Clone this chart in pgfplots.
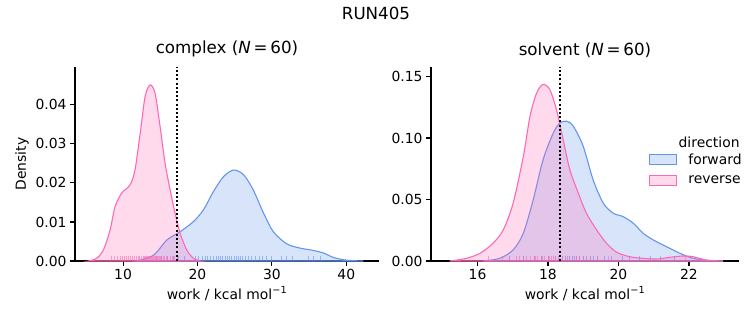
\documentclass[border=0pt]{standalone}
\usepackage{fontspec}
\setmainfont{DejaVu Sans}
\usepackage{pgfplots}
\pgfplotsset{compat=1.18}
\definecolor{fwd}{HTML}{6495ED}
\definecolor{rev}{HTML}{FF69B4}
\pgfplotsset{
 kdeax/.style={
  scale only axis, axis x line*=bottom, axis y line*=left,
  axis line style={line width=1.1pt,-}, tick align=outside,
  major tick length=4.9pt, tick style={black, line width=1.1pt},
  every tick label/.append style={font=\fontsize{13.9}{16}\selectfont},
  label style={font=\fontsize{13.9}{16}\selectfont},
  title style={font=\fontsize{16.7}{20}\selectfont},
  /pgf/number format/assume math mode=true,
  yticklabel style={/pgf/number format/fixed, /pgf/number format/fixed zerofill, /pgf/number format/precision=2},
  scaled y ticks=false, ymin=0, clip=false,
  xlabel={work / kcal mol\textsuperscript{−1}},
 },
 fwdfill/.style={draw=fwd, line width=1.1pt, fill=fwd, fill opacity=0.25, draw opacity=1, smooth, tension=0.5},
 revfill/.style={draw=rev, line width=1.1pt, fill=rev, fill opacity=0.25, draw opacity=1, smooth, tension=0.5},
 rug/.style={ycomb, no marks, line width=0.8pt, opacity=0.6, forget plot},
 dotline/.style={black, line width=2pt, dash pattern=on 2pt off 2.2pt, forget plot},
}
\begin{document}
\begin{tikzpicture}
\path[use as bounding box] (0,0) rectangle (753pt,325pt);
\node[font=\fontsize{16.7}{20}\selectfont] at (376pt,312pt) {RUN405};
% complex
\begin{axis}[kdeax, at={(75pt,64pt)}, anchor=south west, width=304pt, height=194pt,
  xmin=3.54, xmax=44.4, ymax=0.0497,
  xtick={10,20,30,40}, ytick={0,0.01,0.02,0.03,0.04},
  ylabel={Density},
  title={complex (\textit{N}\,=\,60)}]
\addplot[fwdfill, forget plot] coordinates {
(11.8,0) (14.1,0.0015) (15.9,0.0054) (17.67,0.0075) (19.46,0.0101) (20.8,0.0131)
(22.15,0.0178) (23.5,0.0216) (24.85,0.0233) (26.2,0.0221) (27.5,0.0182) (28.9,0.0122)
(30.2,0.0075) (32.0,0.0044) (33.8,0.0033) (35.6,0.0027) (37,0.002) (38.3,0.0009)
(40.1,0.0002) (42.3,0)} \closedcycle;
\addplot[revfill, forget plot] coordinates {
(5.33,0) (6.46,0.0007) (7.35,0.0028) (8.25,0.0079) (8.92,0.0139) (9.82,0.0174)
(10.94,0.0195) (11.6,0.0233) (12.3,0.0327) (12.96,0.0421) (13.63,0.0451) (14.3,0.043)
(14.98,0.0344) (15.65,0.025) (16.33,0.0182) (17.0,0.0122) (17.67,0.0071) (18.57,0.0028)
(19.46,0.0007) (20.4,0)} \closedcycle;
\addplot[rug, fwd] table[x=x, y expr=0.00124] {
x
14.5
15.2
16.0
16.8
17.5
18.3
19.7
20.1
20.6
21.0
21.4
21.8
22.1
22.5
22.8
23.1
23.4
23.7
24.0
24.3
24.6
24.9
25.2
25.5
25.8
26.1
26.5
26.9
27.3
27.8
28.3
28.7
29.3
30.0
31.3
32.0
32.7
34.9
35.6
36.5
};
\addplot[rug, rev] table[x=x, y expr=0.00124] {
x
8.4
8.9
9.3
9.6
9.9
10.2
10.4
10.7
11.0
11.2
11.5
11.8
12.0
12.2
12.4
12.5
12.7
12.8
12.9
13.0
13.1
13.2
13.3
13.4
13.5
13.6
13.7
13.8
13.9
14.0
14.1
14.2
14.3
14.4
14.5
14.6
14.8
14.9
15.0
15.2
15.4
15.6
15.8
16.0
16.3
16.6
16.9
17.3
};
\addplot[dotline] coordinates {(17.2,0) (17.2,0.0497)};
\end{axis}
% solvent
\begin{axis}[kdeax, at={(431pt,64pt)}, anchor=south west, width=308pt, height=194pt,
  xmin=14.68, xmax=23.42, ymax=0.1577,
  xtick={16,18,20,22}, ytick={0,0.05,0.10,0.15},
  title={solvent (\textit{N}\,=\,60)},
  legend cell align=left,
  legend style={at={(rel axis cs:0.708,0.56)}, anchor=north west, draw=none, fill=none,
    inner sep=0pt, font=\fontsize{13.9}{16}\selectfont, row sep=8pt,
    nodes={inner sep=1pt}, cells={anchor=west},
    /tikz/every odd column/.append style={column sep=10pt}},
  legend image code/.code={\draw[#1] (0pt,-5pt) rectangle (27pt,5pt);}]
\addplot[fwdfill] coordinates {
(16.16,0) (16.63,0.0022) (17.01,0.009) (17.3,0.0226) (17.58,0.0497) (17.86,0.0823)
(18.15,0.104) (18.34,0.1122) (18.53,0.1136) (18.72,0.1095) (19.0,0.0932) (19.28,0.066)
(19.57,0.047) (19.85,0.0389) (20.13,0.0361) (20.42,0.0307) (20.7,0.0226) (20.99,0.0171)
(21.36,0.0117) (21.74,0.0063) (22.12,0.0022) (22.59,0.0003) (22.97,0)} \closedcycle;
\addlegendentry{\makebox[58pt][l]{forward}}
\addplot[revfill] coordinates {
(15.21,0) (15.69,0.0022) (16.07,0.0063) (16.44,0.0144) (16.73,0.0253) (17.01,0.047)
(17.3,0.085) (17.49,0.1177) (17.68,0.1367) (17.86,0.1435) (18.05,0.1394) (18.24,0.123)
(18.43,0.0986) (18.62,0.0742) (18.86,0.0552) (19.09,0.0389) (19.38,0.0253) (19.66,0.0144)
(19.95,0.0071) (20.32,0.0035) (20.7,0.0022) (21.08,0.0016) (21.46,0.003) (21.84,0.0041)
(22.12,0.0035) (22.5,0.0008) (22.97,0)} \closedcycle;
\addlegendentry{\makebox[58pt][l]{reverse}}
\addplot[rug, fwd] table[x=x, y expr=0.00394] {
x
16.9
17.3
17.6
17.8
18.0
18.2
18.3
18.4
18.5
18.55
18.6
18.7
18.75
18.8
18.9
19.0
19.1
19.2
19.3
19.4
19.6
19.8
20.1
20.3
20.6
20.9
21.2
21.6
};
\addplot[rug, rev] table[x=x, y expr=0.00394] {
x
16.3
16.7
16.9
17.1
17.2
17.3
17.4
17.5
17.6
17.65
17.7
17.8
17.85
17.9
18.0
18.05
18.1
18.15
18.2
18.3
18.4
18.5
18.6
18.7
18.8
18.9
19.0
19.2
19.4
19.7
21.9
};
\addplot[dotline] coordinates {(18.34,0) (18.34,0.1577)};
\node[font=\fontsize{13.9}{16}\selectfont] at (rel axis cs:0.903,0.613) {direction};
\end{axis}
\end{tikzpicture}
\end{document}
